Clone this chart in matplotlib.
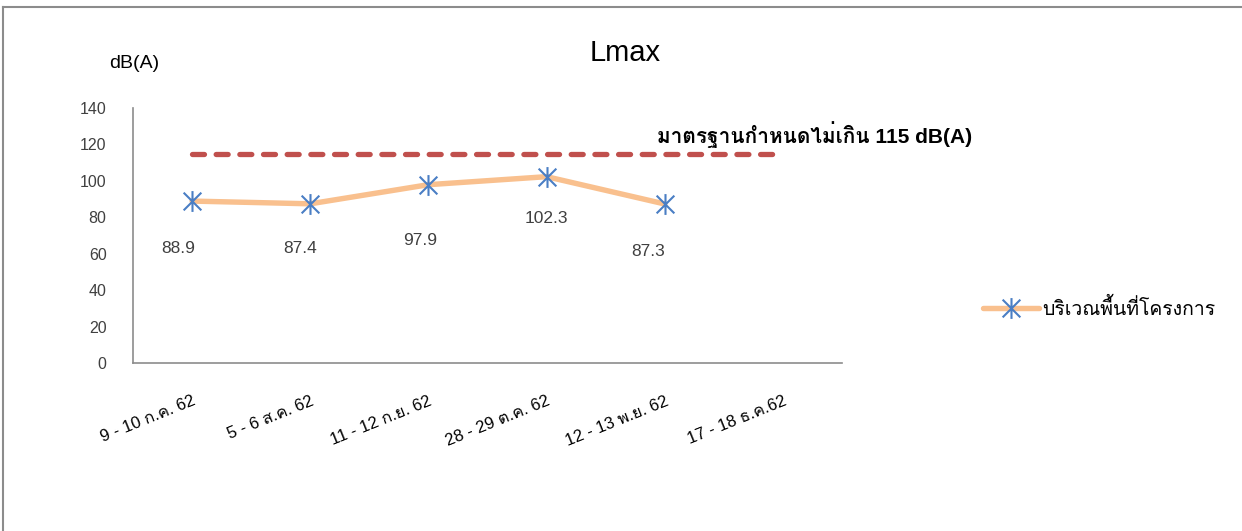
import matplotlib
matplotlib.use("Agg")
import matplotlib.pyplot as plt
from matplotlib import font_manager
from matplotlib.ft2font import FT2Font
from matplotlib.path import Path
from matplotlib.lines import Line2D
import numpy as np

# ---- data ----
categories = ["9 - 10 ก.ค. 62", "5 - 6 ส.ค. 62", "11 - 12 ก.ย. 62",
              "28 - 29 ต.ค. 62", "12 - 13 พ.ย. 62", "17 - 18 ธ.ค.62"]
lmax_values = [88.9, 87.4, 97.9, 102.3, 87.3, np.nan]
standard_values = [115, 115, 115, 115, 115, 115]
series_label = "บริเวณพื้นที่โครงการ"
standard_label = "มาตรฐานกำหนดไม่เกิน 115 dB(A)"
y_ticks = [0, 20, 40, 60, 80, 100, 120, 140]

# hand-placed data label offsets (points, relative to each marker)
label_dx = [-10, -7, -6, 0, -12]
label_dy = [-34.5, -32.5, -40, -30, -34]


def family_with(ch):
    for f in font_manager.fontManager.ttflist:
        try:
            if ord(ch) in FT2Font(f.fname).get_charmap():
                return f.name
        except Exception:
            pass
    return None


thai = family_with("ก")
families = ["Liberation Sans"] + ([thai] if thai else []) + ["DejaVu Sans"]
plt.rcParams["font.family"] = families

W, H = 1242, 531
fig = plt.figure(figsize=(W / 100, H / 100), dpi=100)
ax = fig.add_axes([133 / W, 1 - 363 / H, (842 - 133) / W, (363 - 108) / H])

x = np.arange(len(categories))

# asterisk marker: vertical stroke plus an X
star = Path([(0, -1), (0, 1), (-0.85, -0.85), (0.85, 0.85), (-0.85, 0.85), (0.85, -0.85)],
            [Path.MOVETO, Path.LINETO, Path.MOVETO, Path.LINETO, Path.MOVETO, Path.LINETO])

line_color = "#F9C08E"
marker_color = "#4A7EC4"
std_color = "#C0504D"

std_line, = ax.plot(x, standard_values, color=std_color, lw=3.8,
                    dash_capstyle="round", solid_capstyle="round", zorder=2)
std_line.set_dashes([2.27, 2.215])

ax.plot(x, lmax_values, color=line_color, lw=3.9, solid_capstyle="round",
        marker=star, markersize=15, markeredgecolor=marker_color,
        markerfacecolor="none", markeredgewidth=1.5, zorder=3)

for xi, v, dx, dy in zip(x, lmax_values, label_dx, label_dy):
    if np.isfinite(v):
        ax.annotate(f"{v:.1f}", (xi, v), xytext=(dx, dy), textcoords="offset points",
                    ha="center", va="center", fontsize=12.5, color="#404040")

ax.set_xlim(-0.5, len(categories) - 0.5)
ax.set_ylim(0, 140)
ax.set_yticks(y_ticks)
ax.set_xticks(x)
ax.set_xticklabels(categories, rotation=22, ha="right", rotation_mode="anchor",
                   fontsize=12)
ax.tick_params(axis="both", length=0, colors="#404040")
ax.tick_params(axis="y", labelsize=11.5, pad=19)
ax.tick_params(axis="x", pad=22)
for lab in ax.get_xticklabels():
    lab.set_color("#000000")
for side in ("top", "right"):
    ax.spines[side].set_visible(False)
for side in ("left", "bottom"):
    ax.spines[side].set_color("#8C8C8C")
    ax.spines[side].set_linewidth(1.2)

fig.text(625 / W, 1 - 53 / H, "Lmax", ha="center", va="center", fontsize=21,
         color="#000000")
fig.text(134 / W, 1 - 64 / H, "dB(A)", ha="center", va="center", fontsize=14,
         color="#000000")
fig.text(657 / W, 1 - 135 / H, standard_label, ha="left", va="center",
         fontsize=15, fontweight="bold", color="#000000")

handle = Line2D([], [], color=line_color, lw=3.9, solid_capstyle="round",
                marker=star, markersize=15, markeredgecolor=marker_color,
                markerfacecolor="none", markeredgewidth=1.5)
fig.legend([handle], [series_label], loc="center left",
           bbox_to_anchor=(983 / W, 1 - 308 / H), frameon=False, borderpad=0,
           borderaxespad=0, handlelength=2.9, handletextpad=0.15, fontsize=14)

# outer frame edges
fig.add_artist(Line2D([2.5 / W, 2.5 / W], [0, 1 - 7 / H], transform=fig.transFigure,
                      color="#8C8C8C", lw=1.5))
fig.add_artist(Line2D([2.5 / W, 1], [1 - 7 / H, 1 - 7 / H], transform=fig.transFigure,
                      color="#8C8C8C", lw=1.5))

fig.savefig("out.png", dpi=100, facecolor="white")
